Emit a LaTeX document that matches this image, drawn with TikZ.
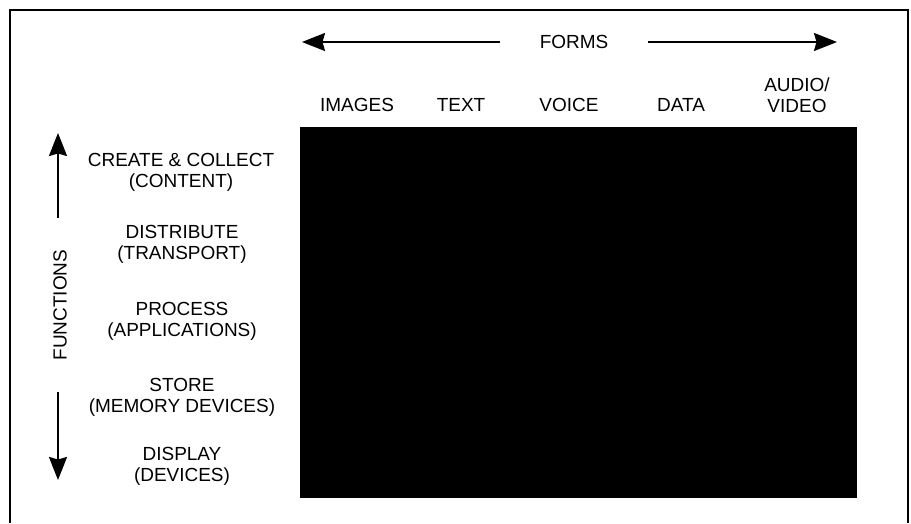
\documentclass[tikz,border=0pt]{standalone}
\usepackage{fontspec}
\setmainfont{Liberation Sans}
\usetikzlibrary{arrows.meta}
\tikzset{
  lbl/.style={align=center, font=\fontsize{10.8}{12}\selectfont},
  bigarrow/.style={line width=1.2pt, -{Stealth[length=0.46cm,width=0.36cm,inset=0.05cm]}}
}

\begin{document}
\begin{tikzpicture}[x=0.02cm,y=-0.02cm]
    \useasboundingbox (0,0) rectangle (911,523);

    % Frame
    \draw[line width=0.8pt] (10,523) -- (10,10) -- (908,10) -- (908,523);

    % Matrix
    \fill[black] (300,127) rectangle (857,498);

    % Forms
    \node[lbl] (forms) at (574,42) {FORMS};
    \coordinate (formsL) at (500,42);
    \coordinate (formsLtip) at (302,42);
    \coordinate (formsR) at (648,42);
    \coordinate (formsRtip) at (837,42);
    \draw[bigarrow] (formsL) -- (formsLtip);
    \draw[bigarrow] (formsR) -- (formsRtip);

    \node[lbl] (images) at (357,105) {IMAGES};
    \node[lbl] (text) at (461,105) {TEXT};
    \node[lbl] (voice) at (569,105) {VOICE};
    \node[lbl] (data) at (681,105) {DATA};
    \node[lbl] (audio) at (797,95) {AUDIO/\\VIDEO};

    % Functions
    \node[lbl, rotate=90] (functions) at (60,305) {FUNCTIONS};
    \coordinate (funcUp) at (58,218);
    \coordinate (funcUptip) at (58,133);
    \coordinate (funcDown) at (58,392);
    \coordinate (funcDowntip) at (58,480);
    \draw[bigarrow] (funcUp) -- (funcUptip);
    \draw[bigarrow] (funcDown) -- (funcDowntip);

    \node[lbl] (create) at (181,172) {CREATE \& COLLECT\\(CONTENT)};
    \node[lbl] (distribute) at (182,244) {DISTRIBUTE\\(TRANSPORT)};
    \node[lbl] (process) at (182,321) {PROCESS\\(APPLICATIONS)};
    \node[lbl] (store) at (182,397) {STORE\\(MEMORY DEVICES)};
    \node[lbl] (display) at (182,466) {DISPLAY\\(DEVICES)};
\end{tikzpicture}
\end{document}
